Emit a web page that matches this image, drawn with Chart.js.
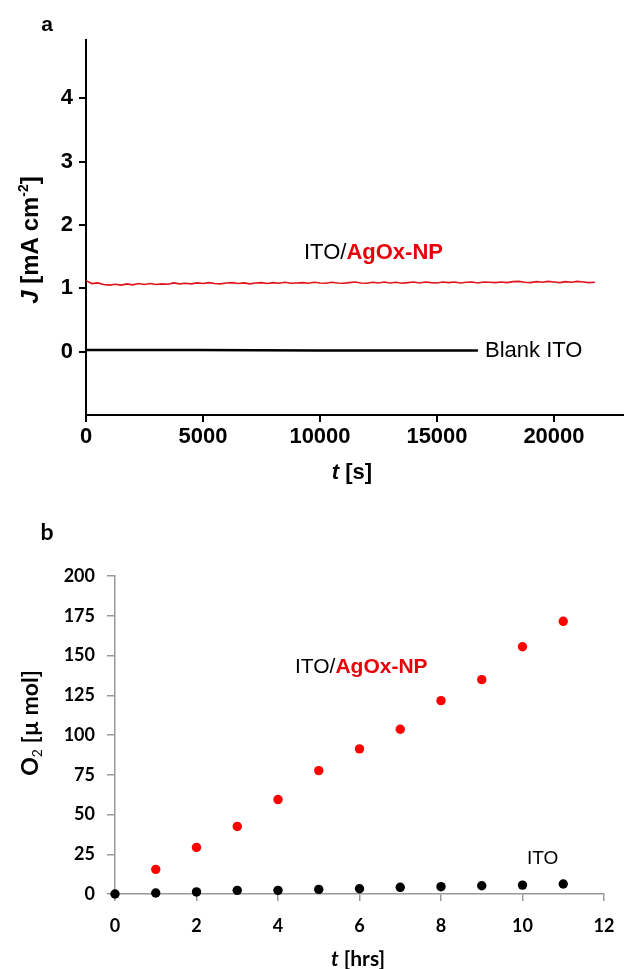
<!DOCTYPE html>
<html>
<head>
<meta charset="utf-8">
<script src="https://cdn.jsdelivr.net/npm/chart.js@4.4.1/dist/chart.umd.min.js"></script>
<style>
  html, body { margin:0; padding:0; background:#fff; }
  body { width:624px; height:969px; position:relative; overflow:hidden; }
  canvas { position:absolute; left:0; }
  .t { position:absolute; white-space:nowrap; line-height:1; color:#000; }
  .arial { font-family:"Liberation Sans", Arial, sans-serif; }
  .lato { font-family:Lato, "Open Sans", sans-serif; }
  .c { transform:translate(-50%,-50%); }
  .lc { transform:translate(0,-50%); }
  .rot { transform:translate(-50%,-50%) rotate(-90deg); }
  .red { color:#e8000b; font-weight:bold; }
</style>
</head>
<body>
<canvas id="c1" width="624" height="490" style="top:0"></canvas>
<canvas id="c2" width="624" height="479" style="top:490px"></canvas>

<div class="t arial c" style="left:47px;top:23px;font-size:21px;font-weight:bold;">a</div>
<div class="t arial lc" style="left:304px;top:252px;font-size:22px;">ITO/<span class="red">AgOx-NP</span></div>
<div class="t arial lc" style="left:485px;top:350px;font-size:22px;">Blank ITO</div>
<div class="t arial c" style="left:352px;top:472px;font-size:22px;font-weight:bold;"><i>t</i> [s]</div>
<div class="t arial rot" style="left:29px;top:240px;font-size:24px;font-weight:bold;"><i>J</i> [mA cm<sup style="font-size:14px;vertical-align:10px;">-2</sup>]</div>

<div class="t lato c" style="left:47px;top:531px;font-size:23px;font-weight:bold;">b</div>
<div class="t arial lc" style="left:295px;top:665px;font-size:21px;">ITO/<span class="red">AgOx-NP</span></div>
<div class="t arial lc" style="left:527px;top:857px;font-size:19px;">ITO</div>
<div class="t lato c" style="left:358px;top:957px;font-size:21px;font-weight:bold;"><i>t</i> [hrs]</div>
<div class="t lato rot" style="left:31px;top:723px;font-size:23px;font-weight:bold;">O<sub style="font-size:14px;vertical-align:-4px;font-weight:normal;">2</sub> [µ mol]</div>

<script>
// ---------- Panel a: current density vs time ----------
const redTimes = [0,250,500,750,1000,1250,1500,1750,2000,2250,2500,
  2750,3000,3250,3500,3750,4000,4250,4500,4750,5000,
  5250,5500,5750,6000,6250,6500,6750,7000,7250,7500,
  7750,8000,8250,8500,8750,9000,9250,9500,9750,10000,
  10250,10500,10750,11000,11250,11500,11750,12000,12250,12500,
  12750,13000,13250,13500,13750,14000,14250,14500,14750,15000,
  15250,15500,15750,16000,16250,16500,16750,17000,17250,17500,
  17750,18000,18250,18500,18750,19000,19250,19500,19750,20000,
  20250,20500,20750,21000,21250,21500,21750];
const redJ = [1.12,1.075,1.085,1.06,1.05,1.065,1.05,1.07,1.055,1.075,1.06,
  1.075,1.06,1.07,1.065,1.085,1.07,1.08,1.07,1.085,1.075,
  1.09,1.075,1.07,1.085,1.09,1.075,1.085,1.07,1.085,1.09,
  1.075,1.09,1.08,1.095,1.08,1.085,1.09,1.08,1.095,1.085,
  1.08,1.095,1.085,1.08,1.09,1.10,1.085,1.08,1.095,1.085,
  1.10,1.085,1.095,1.08,1.09,1.10,1.085,1.10,1.09,1.085,
  1.10,1.09,1.10,1.085,1.095,1.10,1.085,1.10,1.095,1.09,
  1.10,1.09,1.105,1.11,1.095,1.09,1.105,1.095,1.11,1.10,
  1.09,1.105,1.095,1.11,1.10,1.09,1.095];
const blankTimes = [0,4700,10000,16750];
const blankJ = [0.025,0.025,0.02,0.02];
const xTicksA = [0,5000,10000,15000,20000];
const yTicksA = [0,1,2,3,4];

// ---------- Panel b: O2 evolved vs time ----------
const hours = [0,1,2,3,4,5,6,7,8,9,10,11];
const o2AgOx = [null,15.5,29.3,42.5,59.4,77.6,91.3,103.6,121.6,134.8,155.5,171.5];
const o2ITO = [0,0.6,1.3,2.3,2.3,2.9,3.3,4.2,4.6,5.2,5.6,6.3];
const xTicksB = [0,2,4,6,8,10,12];
const yTicksB = [0,25,50,75,100,125,150,175,200];

function pts(xs, ys){ const o=[]; xs.forEach((x,i)=>{ if(ys[i]!==null) o.push({x:x,y:ys[i]}); }); return o; }
const setTicks = arr => s => { s.ticks = arr.map(v=>({value:v})); };
const fitX = h => s => { s.height = h; s.paddingLeft = 0; s.paddingRight = 0; };
const fitY = w => s => { s.width = w; s.paddingTop = 0; s.paddingBottom = 0; };

const fA = {family:'"Liberation Sans", Arial, sans-serif', size:22, weight:'bold'};
new Chart(document.getElementById('c1'), {
  type:'scatter',
  data:{datasets:[
    {data:pts(redTimes, redJ), showLine:true, borderColor:'#e0141c', borderWidth:1.6, pointRadius:0, tension:0},
    {data:pts(blankTimes, blankJ), showLine:true, borderColor:'#000', borderWidth:2.5, pointRadius:0, tension:0}
  ]},
  options:{
    responsive:false, animation:false,
    layout:{padding:{left:0, top:40, right:1, bottom:0}},
    plugins:{legend:{display:false}, tooltip:{enabled:false}},
    scales:{
      x:{type:'linear', min:0, max:22950, afterBuildTicks:setTicks(xTicksA), afterFit:fitX(75),
         grid:{drawOnChartArea:false, drawTicks:true, tickLength:7, color:'#000', lineWidth:2},
         border:{display:true, color:'#000', width:2},
         ticks:{font:fA, color:'#000', padding:2, maxRotation:0, autoSkip:false, callback:v=>String(v)}},
      y:{type:'linear', min:-1, max:4.92, afterBuildTicks:setTicks(yTicksA), afterFit:fitY(86),
         grid:{drawOnChartArea:false, drawTicks:true, tickLength:7, color:'#000', lineWidth:2},
         border:{display:true, color:'#000', width:2},
         ticks:{font:fA, color:'#000', padding:6, autoSkip:false, callback:v=>String(v)}}
    }
  }
});

const fB = {family:'Lato, "Open Sans", sans-serif', size:18, weight:'bold'};
new Chart(document.getElementById('c2'), {
  type:'scatter',
  data:{datasets:[
    {data:pts(hours, o2AgOx), backgroundColor:'#ff0000', borderWidth:0, pointRadius:4.7, clip:false},
    {data:pts(hours, o2ITO), backgroundColor:'#000', borderWidth:0, pointRadius:4.7, clip:false}
  ]},
  options:{
    responsive:false, animation:false,
    layout:{padding:{left:0, top:86, right:20, bottom:0}},
    plugins:{legend:{display:false}, tooltip:{enabled:false}},
    scales:{
      x:{type:'linear', min:0, max:12, afterBuildTicks:setTicks(xTicksB), afterFit:fitX(75),
         grid:{drawOnChartArea:false, drawTicks:true, tickLength:7, color:'#999', lineWidth:1.5},
         border:{display:true, color:'#999', width:1.5},
         ticks:{font:fB, color:'#000', padding:14, maxRotation:0, autoSkip:false, callback:v=>String(v)}},
      y:{type:'linear', min:0, max:200, afterBuildTicks:setTicks(yTicksB), afterFit:fitY(115),
         grid:{drawOnChartArea:false, drawTicks:true, tickLength:8, color:'#999', lineWidth:1.5},
         border:{display:true, color:'#999', width:1.5},
         ticks:{font:fB, color:'#000', padding:12, autoSkip:false, callback:v=>String(v)}}
    }
  }
});
</script>
</body>
</html>
